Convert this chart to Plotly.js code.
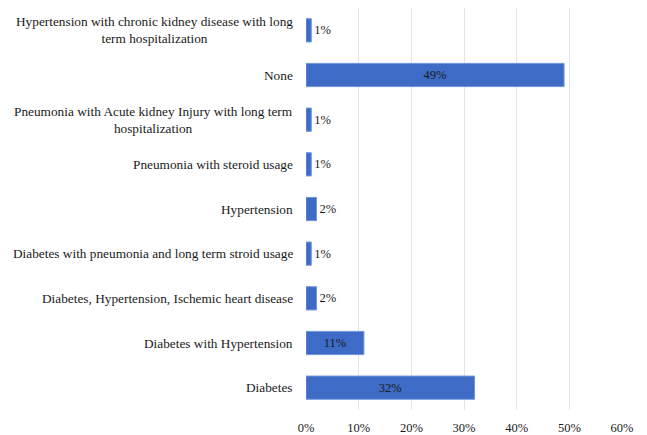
<!DOCTYPE html>
<html>
<head>
<meta charset="utf-8">
<script src="https://cdn.plot.ly/plotly-3.0.1.min.js"></script>
<style>html,body{margin:0;padding:0;background:#fff;}#chart{width:647px;height:435px;}</style>
</head>
<body>
<div id="chart"></div>
<script>
// Data (bottom to top)
const categories = [
  "Diabetes",
  "Diabetes with Hypertension",
  "Diabetes, Hypertension, Ischemic heart disease",
  "Diabetes with pneumonia and long term stroid usage",
  "Hypertension",
  "Pneumonia with steroid usage",
  "Pneumonia with Acute kidney Injury with long term hospitalization",
  "None",
  "Hypertension with chronic kidney disease with long term hospitalization"
];
const categoryLabels = [
  "Diabetes",
  "Diabetes with Hypertension",
  "Diabetes, Hypertension, Ischemic heart disease",
  "Diabetes with pneumonia and long term stroid usage",
  "Hypertension",
  "Pneumonia with steroid usage",
  "Pneumonia with Acute kidney Injury with long term<br>hospitalization",
  "None",
  "Hypertension with chronic kidney disease with long<br>term hospitalization"
];
const values = [0.32, 0.11, 0.02, 0.01, 0.02, 0.01, 0.01, 0.49, 0.01];
const tickVals = [0, 0.1, 0.2, 0.3, 0.4, 0.5, 0.6];
const tickText = ["0%", "10%", "20%", "30%", "40%", "50%", "60%"];

const serif = "'Liberation Serif', 'Times New Roman', serif";
const textLabels = values.map(v => Math.round(v * 100) + "%");
const textPos = values.map(v => v >= 0.05 ? "inside" : "outside");

const trace = {
  type: "bar",
  orientation: "h",
  y: categories,
  x: values,
  text: textLabels,
  textposition: textPos,
  insidetextanchor: "middle",
  textangle: 0,
  constraintext: "none",
  cliponaxis: false,
  textfont: {family: serif, size: 12.5, color: "#1a1a1a"},
  insidetextfont: {family: serif, size: 12.5, color: "#1a1a1a"},
  outsidetextfont: {family: serif, size: 12.5, color: "#1a1a1a"},
  marker: {color: "#3e6bc6", line: {color: "#7096db", width: 1}},
  hoverinfo: "none"
};

const annotations = categories.map((c, i) => ({
  xref: "paper", yref: "y",
  x: 0, y: c,
  xanchor: "right", yanchor: "middle",
  xshift: -11,
  text: categoryLabels[i],
  align: "center",
  showarrow: false,
  font: {family: serif, size: 13.3, color: "#1a1a1a"}
}));

const layout = {
  width: 647, height: 435,
  margin: {l: 306, r: 25, t: 8, b: 25, pad: 0},
  paper_bgcolor: "#ffffff",
  plot_bgcolor: "#ffffff",
  showlegend: false,
  bargap: 0.48,
  xaxis: {
    range: [0, 0.6],
    tickvals: tickVals,
    ticktext: tickText,
    showgrid: true,
    gridcolor: "#e1e4eb",
    gridwidth: 1,
    zeroline: false,
    showline: false,
    ticks: "",
    ticklabelstandoff: 8,
    tickfont: {family: serif, size: 12.5, color: "#1a1a1a"},
    fixedrange: true
  },
  yaxis: {
    categoryorder: "array",
    categoryarray: categories,
    showticklabels: false,
    showgrid: false,
    zeroline: false,
    showline: false,
    ticks: "",
    fixedrange: true
  },
  annotations: annotations
};

Plotly.newPlot("chart", [trace], layout, {displayModeBar: false, staticPlot: true});
</script>
</body>
</html>
